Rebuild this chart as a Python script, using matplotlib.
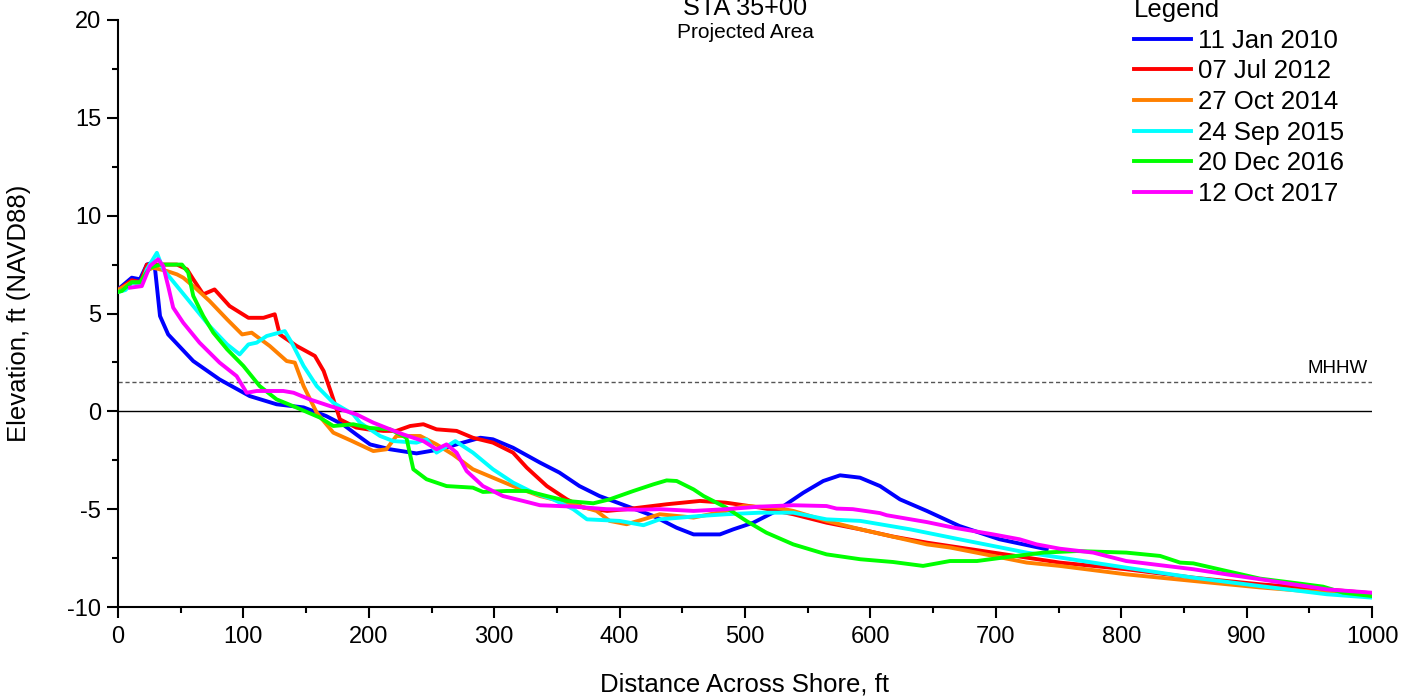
import matplotlib
matplotlib.use('Agg')
import matplotlib.pyplot as plt
from matplotlib.ticker import MultipleLocator

plt.rcParams['font.family'] = ['Liberation Sans', 'DejaVu Sans']
plt.rcParams['axes.unicode_minus'] = False

# ---------------------------------------------------------------------------
# Profile data (distance across shore ft, elevation ft NAVD88)
# ---------------------------------------------------------------------------
jan2010_x = [0, 11, 17.5, 23, 28, 29.5, 33.5, 40, 60, 81, 105, 126.5, 148, 166, 180, 190,
             201, 217, 238, 257, 270, 289, 299, 315, 336.5, 352, 368, 384, 405.6, 427,
             445.5, 459, 480, 490.7, 506.6, 525, 546.5, 562.4, 575.8, 591.7, 607.7,
             623.6, 645, 671, 703, 740.6]
jan2010_y = [6.23, 6.83, 6.75, 7.5, 7.6, 7.3, 4.87, 3.93, 2.57, 1.63, 0.78, 0.36, 0.2, -0.24,
             -0.7, -1.18, -1.69, -1.94, -2.15, -1.94, -1.69, -1.35, -1.43, -1.86, -2.62,
             -3.13, -3.82, -4.33, -4.84, -5.35, -5.95, -6.29, -6.29, -6.03, -5.69, -5.09,
             -4.16, -3.56, -3.27, -3.39, -3.82, -4.5, -5.09, -5.86, -6.54, -7.05]

jul2012_x = [0, 11, 18, 23, 39, 47, 55, 60, 68, 77, 89, 104, 116, 125, 129, 142.5, 157, 164,
             170, 177, 190, 199, 211.6, 222, 233, 243.5, 254, 270, 283, 299, 315, 326, 342,
             358, 371, 390, 405.6, 437.5, 464, 485, 512, 538.5, 565, 592, 618, 645, 698,
             751, 804, 857.5, 910.7, 964, 1000]
jul2012_y = [6.2, 6.7, 6.6, 7.5, 7.5, 7.5, 7.26, 6.75, 5.98, 6.23, 5.38, 4.78, 4.78, 4.96,
             3.93, 3.34, 2.83, 2.06, 0.95, -0.41, -0.83, -0.92, -1.0, -1.0, -0.75, -0.66,
             -0.92, -1.0, -1.35, -1.6, -2.11, -2.88, -3.82, -4.5, -4.92, -5.09, -5.0, -4.75,
             -4.58, -4.67, -4.92, -5.26, -5.69, -6.03, -6.4, -6.71, -7.22, -7.73, -8.07,
             -8.5, -8.84, -9.1, -9.3]

oct2014_x = [0, 11, 18, 23, 28, 39, 47, 52, 63, 73, 87, 99, 106.6, 121, 134.5, 141, 148,
             158.5, 171.7, 186, 203.6, 214, 222, 241, 254, 267, 283, 299, 315, 336.5, 363,
             381.6, 392, 405.6, 419, 432, 459, 485, 498.6, 525, 538.5, 565, 592, 645,
             663.5, 698, 724.6, 751, 804, 857.5, 910.7, 964, 1000]
oct2014_y = [6.2, 6.6, 6.5, 7.2, 7.34, 7.17, 7.0, 6.83, 6.23, 5.64, 4.7, 3.93, 4.02, 3.34,
             2.57, 2.49, 1.29, -0.07, -1.09, -1.5, -2.03, -1.94, -1.26, -1.26, -1.69, -2.2,
             -2.96, -3.39, -3.82, -4.33, -4.75, -5.09, -5.6, -5.77, -5.52, -5.26, -5.43,
             -5.09, -4.84, -4.92, -5.09, -5.6, -6.03, -6.8, -6.96, -7.39, -7.73, -7.9,
             -8.33, -8.67, -9.0, -9.27, -9.44]

sep2015_x = [0, 6, 11, 19, 23, 31, 36, 47, 60, 73, 87, 97, 104, 110.6, 118.6, 133, 138.5,
             148, 158.5, 171.7, 187.6, 193, 209, 219.5, 238, 246, 254, 269, 283, 299, 315,
             331, 347, 363, 374, 400, 419, 432, 464, 485, 512, 538.5, 565, 592, 631.6, 671,
             724.6, 751, 804, 857.5, 910.7, 964, 1000]
sep2015_y = [6.1, 6.2, 6.57, 6.57, 7.26, 8.1, 7.26, 6.4, 5.38, 4.36, 3.42, 2.91, 3.42, 3.51,
             3.85, 4.1, 3.51, 2.32, 1.29, 0.44, -0.15, -0.58, -1.26, -1.52, -1.6, -1.43,
             -2.11, -1.52, -2.11, -2.96, -3.64, -4.15, -4.5, -5.0, -5.52, -5.6, -5.82, -5.52,
             -5.35, -5.26, -5.18, -5.18, -5.52, -5.6, -6.03, -6.54, -7.22, -7.47, -7.99,
             -8.5, -8.93, -9.35, -9.52]

dec2016_x = [0, 3, 11, 17.5, 25.5, 33.5, 47, 51, 56, 60, 68, 76, 87, 100, 113, 126.5, 142.5,
             161, 171.7, 187.6, 201, 217, 230, 235.5, 246, 262, 283, 291, 310, 326, 342, 358,
             379, 392, 411, 427, 437.5, 445.5, 459, 467, 485, 501, 517, 538.5, 565, 592,
             618, 642, 663.5, 685, 711, 738, 764.5, 804, 831, 847, 857.5, 884, 910.7, 937,
             961, 977, 1000]
dec2016_y = [6.1, 6.15, 6.6, 6.6, 7.34, 7.5, 7.5, 7.5, 7.09, 5.9, 4.87, 4.02, 3.17, 2.32,
             1.29, 0.61, 0.19, -0.32, -0.75, -0.66, -0.85, -0.92, -1.35, -2.96, -3.47,
             -3.82, -3.9, -4.12, -4.07, -4.07, -4.33, -4.58, -4.7, -4.5, -4.07, -3.73,
             -3.53, -3.56, -3.99, -4.33, -4.92, -5.6, -6.2, -6.8, -7.31, -7.56, -7.7, -7.9,
             -7.65, -7.65, -7.43, -7.22, -7.14, -7.22, -7.39, -7.73, -7.77, -8.16, -8.55,
             -8.76, -8.96, -9.27, -9.44]

oct2017_x = [9.6, 19, 25.5, 32, 36, 40, 44, 52, 65, 81, 94.6, 102.6, 110.6, 131.8, 140, 153,
             169, 190, 203.6, 217, 227.5, 243.5, 254, 262, 270, 278, 291, 307, 323, 336.5,
             363, 389.6, 416, 432, 459, 485, 512, 538.5, 565, 573, 586, 607.6, 613, 645,
             666, 698, 719, 732.6, 751, 777.7, 804, 857.5, 884, 910.7, 937, 964, 1000]
oct2017_y = [6.32, 6.4, 7.43, 7.77, 7.43, 6.4, 5.3, 4.53, 3.51, 2.49, 1.8, 0.95, 1.04, 1.04,
             0.95, 0.61, 0.27, -0.15, -0.58, -0.92, -1.18, -1.52, -1.94, -1.69, -2.11,
             -3.05, -3.82, -4.33, -4.58, -4.8, -4.87, -5.0, -5.03, -5.0, -5.09, -5.0, -4.87,
             -4.8, -4.84, -4.97, -5.0, -5.2, -5.31, -5.66, -5.94, -6.29, -6.54, -6.8, -7.02,
             -7.22, -7.65, -8.07, -8.33, -8.58, -8.84, -9.1, -9.27]

survey_labels = ['11 Jan 2010', '07 Jul 2012', '27 Oct 2014', '24 Sep 2015',
                 '20 Dec 2016', '12 Oct 2017']
survey_colors = ['#0000FF', '#FF0000', '#FF8000', '#00FFFF', '#00FF00', '#FF00FF']
profiles = [(jan2010_x, jan2010_y), (jul2012_x, jul2012_y), (oct2014_x, oct2014_y),
            (sep2015_x, sep2015_y), (dec2016_x, dec2016_y), (oct2017_x, oct2017_y)]

MHHW = 1.5

# ---------------------------------------------------------------------------
# Figure
# ---------------------------------------------------------------------------
W, H = 1403, 698
fig = plt.figure(figsize=(W / 100, H / 100), dpi=100)
ax = fig.add_axes([118 / W, 91 / H, (1372 - 118) / W, (607 - 20) / H])

handles = []
for (xs, ys), lab, col in zip(profiles, survey_labels, survey_colors):
    ln, = ax.plot(xs, ys, color=col, linewidth=2.8, label=lab, zorder=3)
    handles.append(ln)

ax.axhline(0, color='black', linewidth=1.0, zorder=2)
ax.axhline(MHHW, color='#555555', linewidth=1.0, linestyle=(0, (3, 2)), zorder=2)
ax.text(997, MHHW + 0.25, 'MHHW', ha='right', va='bottom', fontsize=13.5)

ax.set_xlim(0, 1000)
ax.set_ylim(-10, 20)
ax.xaxis.set_major_locator(MultipleLocator(100))
ax.xaxis.set_minor_locator(MultipleLocator(50))
ax.yaxis.set_major_locator(MultipleLocator(5))
ax.yaxis.set_minor_locator(MultipleLocator(2.5))

ax.spines['top'].set_visible(False)
ax.spines['right'].set_visible(False)
ax.spines['left'].set_linewidth(1.5)
ax.spines['bottom'].set_linewidth(1.5)
ax.tick_params(which='major', length=8, width=1.5, labelsize=17)
ax.tick_params(which='minor', length=4.5, width=1.5)
ax.tick_params(axis='x', which='major', pad=6)
ax.tick_params(axis='y', which='major', pad=4)

ax.set_xlabel('Distance Across Shore, ft', fontsize=18.5, labelpad=17)
ax.set_ylabel('Elevation, ft (NAVD88)', fontsize=18.5, labelpad=26)

fig.text(745 / W, 1 - 15 / H, 'STA 35+00', ha='center', va='baseline', fontsize=18.2)
fig.text(745 / W, 1 - 38 / H, 'Projected Area', ha='center', va='baseline', fontsize=15)

leg = ax.legend(handles=handles, title='Legend', loc='upper left',
                bbox_to_anchor=(1134 / W, 1 + 2 / H), bbox_transform=fig.transFigure,
                frameon=False, fontsize=18.5, title_fontsize=18.5, borderpad=0,
                borderaxespad=0, handlelength=2.2, handletextpad=0.3, labelspacing=0.26,
                alignment='left')

fig.savefig('out.png', dpi=100, facecolor='white')
